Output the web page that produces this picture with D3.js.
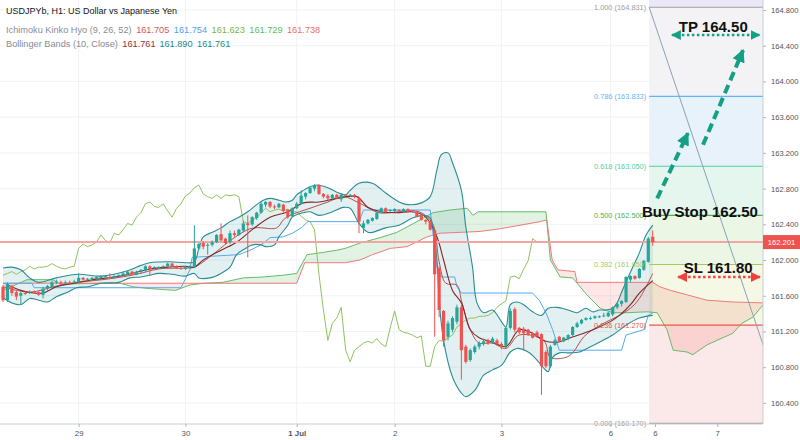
<!DOCTYPE html>
<html>
<head>
<meta charset="utf-8">
<script src="https://cdn.jsdelivr.net/npm/d3@7"></script>
<style>
  body { margin: 0; background: #fff; }
  text { font-family: 'Liberation Sans', Arial, sans-serif; }
</style>
</head>
<body>
<script>
// H1 candles, [open, high, low, close], bar 0 = Jun 28 07:00
const candles = [
  [161.70,161.72,161.53,161.55],[161.55,161.75,161.53,161.73],[161.71,161.72,161.60,161.63],[161.64,161.66,161.55,161.59],
  [161.60,161.64,161.50,161.63],[161.63,161.65,161.61,161.62],[161.63,161.66,161.62,161.64],[161.64,161.66,161.62,161.63],
  [161.64,161.65,161.60,161.61],[161.61,161.70,161.57,161.68],[161.68,161.72,161.66,161.71],[161.70,161.77,161.69,161.75],
  [161.75,161.78,161.73,161.76],[161.75,161.77,161.72,161.74],[161.74,161.77,161.73,161.75],[161.75,161.77,161.73,161.74],
  [161.75,161.78,161.74,161.76],[161.75,161.85,161.74,161.80],[161.80,161.81,161.77,161.78],[161.78,161.80,161.77,161.79],
  [161.79,161.81,161.78,161.80],[161.79,161.82,161.78,161.81],[161.80,161.83,161.79,161.82],[161.81,161.83,161.80,161.82],
  [161.81,161.85,161.79,161.80],[161.80,161.83,161.79,161.82],[161.82,161.84,161.81,161.83],[161.83,161.87,161.82,161.85],
  [161.84,161.88,161.83,161.87],[161.87,161.88,161.83,161.84],[161.84,161.88,161.83,161.87],[161.87,161.90,161.85,161.89],
  [161.88,161.94,161.87,161.93],[161.93,161.94,161.83,161.90],[161.91,161.93,161.90,161.92],[161.92,161.93,161.91,161.92],
  [161.92,161.94,161.91,161.93],[161.93,161.97,161.92,161.96],[161.96,161.97,161.92,161.93],[161.93,161.94,161.90,161.91],
  [161.91,161.92,161.89,161.90],[161.90,161.93,161.89,161.92],[161.92,161.94,161.91,161.93],[161.92,162.39,161.91,162.13],
  [162.13,162.19,162.11,162.18],[162.19,162.21,162.12,162.15],[162.16,162.19,162.06,162.17],[162.17,162.22,162.15,162.20],
  [162.20,162.29,162.19,162.28],[162.29,162.41,162.21,162.22],[162.24,162.25,162.17,162.19],[162.20,162.33,162.18,162.30],
  [162.30,162.33,162.26,162.28],[162.28,162.35,162.27,162.34],[162.33,162.44,162.31,162.41],[162.41,162.50,162.03,162.39],
  [162.40,162.49,162.38,162.48],[162.47,162.54,162.45,162.53],[162.53,162.65,162.52,162.63],[162.62,162.66,162.59,162.65],
  [162.65,162.66,162.58,162.60],[162.60,162.62,162.57,162.59],[162.59,162.64,162.58,162.63],[162.62,162.63,162.53,162.55],
  [162.56,162.57,162.46,162.48],[162.49,162.59,162.48,162.58],[162.58,162.65,162.57,162.63],[162.63,162.78,162.62,162.72],
  [162.71,162.76,162.68,162.75],[162.75,162.82,162.74,162.81],[162.80,162.85,162.77,162.84],[162.84,162.85,162.73,162.74],
  [162.74,162.75,162.69,162.71],[162.72,162.74,162.67,162.69],[162.69,162.74,162.68,162.73],[162.73,162.74,162.68,162.69],
  [162.68,162.75,162.65,162.73],[162.73,162.74,162.71,162.72],[162.72,162.74,162.71,162.73],[162.73,162.74,162.69,162.71],
  [162.69,162.71,162.30,162.43],[162.36,162.44,162.30,162.41],[162.41,162.46,162.40,162.45],[162.44,162.48,162.43,162.47],
  [162.46,162.54,162.45,162.53],[162.53,162.59,162.52,162.58],[162.58,162.59,162.53,162.54],[162.55,162.57,162.54,162.56],
  [162.55,162.58,162.54,162.57],[162.56,162.57,162.54,162.55],[162.54,162.58,162.53,162.57],[162.57,162.58,162.53,162.54],
  [162.55,162.56,162.53,162.54],[162.54,162.55,162.48,162.49],[162.50,162.52,162.44,162.45],[162.45,162.46,162.40,162.43],
  [162.43,162.44,162.33,162.34],[162.33,162.34,161.14,161.84],[161.91,161.93,161.36,161.44],[161.43,161.44,161.03,161.10],
  [161.14,161.32,161.10,161.29],[161.22,161.37,161.19,161.35],[161.31,161.50,161.28,161.47],[161.47,161.50,160.66,160.99],
  [161.03,161.05,160.84,160.86],[160.88,161.01,160.86,160.99],[160.97,161.05,160.95,161.03],[161.03,161.09,161.00,161.07],
  [161.06,161.12,161.04,161.09],[161.10,161.12,161.05,161.07],[161.07,161.14,161.06,161.12],[161.10,161.12,161.04,161.06],
  [161.06,161.08,161.00,161.03],[161.04,161.25,161.01,161.24],[161.24,161.46,161.22,161.43],[161.45,161.47,161.19,161.22],
  [161.24,161.25,161.17,161.19],[161.23,161.25,160.99,161.18],[161.22,161.23,161.15,161.16],[161.18,161.19,161.12,161.13],
  [161.19,161.21,161.13,161.15],[161.17,161.18,160.49,160.81],[160.97,160.99,160.79,160.81],[160.81,161.05,160.79,161.03],
  [161.05,161.12,161.04,161.10],[161.14,161.15,161.08,161.09],[161.09,161.14,161.08,161.13],[161.12,161.17,161.10,161.16],
  [161.16,161.26,161.15,161.25],[161.25,161.31,161.24,161.29],[161.29,161.34,161.28,161.33],[161.33,161.36,161.32,161.35],
  [161.34,161.37,161.33,161.35],[161.35,161.38,161.34,161.37],[161.36,161.38,161.35,161.37],[161.37,161.41,161.36,161.38],
  [161.37,161.42,161.36,161.41],[161.39,161.48,161.37,161.47],[161.47,161.52,161.45,161.51],[161.51,161.55,161.48,161.54],
  [161.53,161.82,161.52,161.81],[161.78,161.83,161.75,161.82],[161.82,161.83,161.78,161.79],[161.80,161.91,161.79,161.90],
  [161.89,162.00,161.88,161.99],[161.98,162.26,161.97,162.24],[162.26,162.33,162.16,162.201]
];

// indicator lines, [bar, price]
const bbUpper = [[0,161.91],[2,161.92],[4,161.89],[6,161.80],[8,161.75],[12,161.80],[17,161.84],[22,161.82],[28,161.88],[31,161.94],
  [33,161.97],[37.5,161.98],[41,161.97],[43,161.98],[44,162.13],[45,162.26],[47,162.31],[49,162.36],[51,162.43],[53,162.48],
  [55,162.54],[57,162.62],[58.5,162.67],[60,162.69],[62,162.67],[63.5,162.65],[65,162.67],[66,162.73],[67.5,162.78],[69,162.82],
  [70.5,162.84],[73,162.81],[75,162.76],[77,162.73],[78,162.78],[80,162.86],[83,162.86],[86,162.75],[89,162.65],[91,162.62],
  [94,162.64],[96,162.71],[97.5,163.01],[98.5,163.18],[100,163.20],[101,163.09],[103,162.78],[104,162.37],[105.5,161.92],
  [106.5,161.52],[108,161.41],[110,161.44],[112,161.31],[113,161.25],[114,161.50],[115.5,161.53],[117,161.50],[119,161.42],
  [121,161.38],[122.5,161.46],[124.5,161.47],[127,161.44],[129,161.41],[131,161.46],[132.5,161.42],[134,161.44],[135.5,161.44],
  [137,161.46],[138,161.52],[139,161.64],[140.5,161.81],[141.5,161.92],[143,162.08],[144.5,162.28],[146,162.39]];
const bbLower = [[0,161.58],[2,161.52],[4,161.50],[6,161.57],[8,161.55],[10,161.53],[12,161.59],[14.5,161.64],[16.5,161.69],
  [19,161.70],[22,161.74],[26,161.75],[28.5,161.80],[31,161.81],[33,161.83],[35,161.85],[38,161.84],[41,161.82],[43,161.85],
  [44,161.80],[46.5,161.80],[49,161.85],[51,161.92],[52.5,162.06],[54.5,162.13],[56,162.17],[58,162.17],[59,162.15],[61,162.17],
  [62,162.26],[64,162.39],[65,162.48],[67.5,162.53],[69,162.54],[71,162.50],[73.5,162.53],[76.5,162.59],[78,162.58],[80,162.41],
  [82,162.31],[83,162.31],[86,162.36],[89,162.39],[92,162.47],[94.5,162.50],[96,162.47],[97.5,162.00],[98,161.55],[99,161.10],
  [101,160.69],[103,160.51],[104,160.47],[106,160.54],[108,160.71],[110,160.77],[112,160.82],[114,160.97],[115.5,161.01],
  [118,160.97],[120,160.88],[121.5,160.79],[122.5,160.75],[123.5,160.91],[125,160.96],[127.5,160.96],[129.5,160.97],[132,161.03],
  [134,161.08],[137,161.16],[140,161.27],[143,161.35],[146,161.38]];
const bbBasis = [[1,161.72],[4,161.66],[7,161.63],[9,161.63],[12,161.70],[16,161.74],[20,161.78],[25,161.81],[29,161.85],[33,161.90],
  [37,161.92],[41,161.93],[43,161.92],[45,162.00],[49,162.11],[52.5,162.20],[56,162.34],[60,162.48],[64,162.54],[67.5,162.64],
  [71,162.65],[75,162.69],[79.5,162.71],[82,162.59],[85,162.54],[88.5,162.53],[92,162.54],[95,162.48],[97.5,162.26],[99,162.00],
  [101,161.66],[103,161.52],[105,161.22],[107,161.13],[110,161.08],[113,161.03],[116,161.22],[119,161.18],[121.5,161.10],
  [124.5,161.08],[127.5,161.13],[130.5,161.18],[133.5,161.24],[136.5,161.31],[138.5,161.38],[141,161.50],[143,161.63],[146,161.77]];
const conversionLine = [[0,161.70],[6,161.64],[12,161.71],[17,161.75],[24,161.79],[30,161.84],[35,161.90],[41,161.91],[43,161.92],
  [55.5,162.35],[61.5,162.36],[63,162.45],[64.5,162.50],[69,162.58],[73,162.65],[76.5,162.71],[80,162.64],[84.5,162.53],
  [89,162.54],[93.5,162.54],[96.5,162.41],[98,161.98],[99.5,161.74],[102,161.72],[103,161.55],[105,161.22],[107,161.07],
  [110,161.07],[113,161.01],[116,161.16],[121.5,161.10],[123,160.91],[126.5,160.91],[128,160.96],[130.5,161.14],[133.5,161.25],
  [136.5,161.33],[138.5,161.38],[141,161.46],[143,161.57],[146,161.85]];
const baseLine = [[0,161.74],[6.5,161.74],[7,161.69],[40,161.69],[40.5,161.74],[42,161.89],[42.5,162.03],[53,162.06],[55.5,162.11],
  [58,162.17],[60,162.25],[63,162.26],[65,162.30],[67,162.36],[68.5,162.43],[80,162.43],[81,162.56],[96,162.56],[97.5,161.92],
  [98.5,161.81],[101.5,161.81],[102,161.70],[103,161.63],[119,161.63],[120.5,161.55],[122,161.41],[123.5,161.22],[125,160.99],
  [139,160.99],[140,161.16],[144,161.22],[145,161.38],[146,161.41]];
const spanA = [[0,161.66],[5.4,161.78],[11.2,161.78],[12.8,161.73],[21.8,161.74],[26.3,161.74],[29.2,161.70],[33,161.68],
  [38.7,161.66],[42,161.72],[45,161.74],[49.4,161.75],[54,161.80],[58.4,161.81],[63,161.83],[66,161.85],[68.3,162.06],
  [71.2,162.08],[75,162.11],[76.9,162.13],[80.2,162.19],[84.7,162.25],[88.5,162.31],[93,162.43],[96.6,162.53],[100.4,162.56],
  [104.3,162.58],[105.6,162.50],[106.7,162.54],[114,162.54],[122,162.54],[123,162.00],[125.2,161.81],[128,161.80],[131.2,161.61],
  [134.2,161.46],[137,161.41],[140.2,161.41],[144.7,161.42],[147,161.41],[149.2,161.22],[150.6,160.99],[153.7,160.97],
  [155,160.94],[158.2,161.05],[164,161.18],[166,161.29],[168.5,161.36],[170.8,161.50]];
const spanB = [[0,161.74],[53,161.74],[66,161.74],[67.8,161.97],[76.9,161.97],[80.2,162.00],[83,162.06],[87,162.13],[90.8,162.15],
  [95.3,162.26],[98.2,162.30],[102.7,162.31],[107.2,162.32],[111.7,162.35],[120.7,162.43],[122.2,162.45],[123.4,162.00],
  [124.7,161.89],[128.5,161.87],[129,161.75],[146,161.75],[147.6,161.70],[150,161.66],[158.2,161.55],[164,161.53],[170.8,161.52]];
const laggingShift = 26;

// axes
const priceTicks = [160.4, 160.8, 161.2, 161.6, 162.0, 162.4, 162.8, 163.2, 163.6, 164.0, 164.4, 164.8];
const dateTickBars = [17, 41, 66, 88, 112, 136.5, 146.5, 160.5];
const dateLabels = ['29', '30', '1 Jul', '2', '3', '6', '6', '7'];
const lastPrice = 162.201;

// fibonacci retracement
const fibLevels = [0, 0.236, 0.382, 0.5, 0.618, 0.786, 1];
const fibPrices = [160.170, 161.270, 161.950, 162.500, 163.050, 163.833, 164.831];
const fibLineColors = ['#9e9e9e', '#ef5350', '#a5cc5a', '#4caf50', '#4fd1a5', '#64b5f6', '#9e9e9e'];
const fibFillColors = ['#fbe8e8', '#f4f8e4', '#ebf6e5', '#e4f6ee', '#e7f2fa', '#f3f3f5'];
const fibStartBar = 145.2;
const trendLine = [[145.2, 164.831], [171, 161.02]];

// trade plan
const tpArrow = [[150.3, 164.52], [170, 164.52]];
const slArrow = [[151.7, 161.81], [170.1, 161.81]];
const upArrows = [[[147, 162.69], [153.9, 163.42]], [[157.3, 163.29], [166.3, 164.35]]];
const notes = [
  { text: 'TP 164.50', bar: 159.6, price: 164.555 },
  { text: 'Buy Stop 162.50', bar: 156.6, price: 162.48 },
  { text: 'SL 161.80', bar: 160.7, price: 161.855 }
];

const ichimokuValues = [['161.705', '#d25a5a'], ['161.754', '#4ea3e6'], ['161.623', '#7cb342'], ['161.729', '#57c25a'], ['161.738', '#f06a6a']];
const bbValues = [['161.761', '#9a2e2e'], ['161.890', '#1b8a8a'], ['161.761', '#1b8a8a']];

const width = 800;
const height = 440;
const plotRight = 763;
const plotBottom = 424;

const svg = d3.select('body').append('svg')
  .attr('width', width)
  .attr('height', height);

const x = d3.scaleLinear().domain([0, 171]).range([3, 764]);
const y = d3.scaleLinear().domain([160.4, 164.8]).range([402.9, 10]);

const defs = svg.append('defs');
defs.append('clipPath').attr('id', 'plot')
  .append('rect').attr('width', plotRight).attr('height', plotBottom);

function head(id, color, size) {
  defs.append('marker')
    .attr('id', id)
    .attr('viewBox', '0 0 10 10')
    .attr('refX', 9).attr('refY', 5)
    .attr('markerWidth', size).attr('markerHeight', size)
    .attr('markerUnits', 'userSpaceOnUse')
    .attr('orient', 'auto-start-reverse')
    .append('path')
    .attr('d', 'M0,0 L10,5 L0,10 z')
    .attr('fill', color);
}
head('tealHead', '#14a085', 13);
head('tealSmall', '#14a085', 10);
head('redSmall', '#f0413c', 10);

// grid
const grid = svg.append('g');
grid.selectAll('.h').data(priceTicks).enter().append('line')
  .attr('x1', 0).attr('x2', plotRight)
  .attr('y1', d => y(d)).attr('y2', d => y(d))
  .attr('stroke', '#f0f2f6');
grid.selectAll('.v').data(dateTickBars).enter().append('line')
  .attr('x1', d => x(d)).attr('x2', d => x(d))
  .attr('y1', 0).attr('y2', plotBottom)
  .attr('stroke', '#f0f2f6');

const plot = svg.append('g').attr('clip-path', 'url(#plot)');

// fib zones
const fx0 = x(fibStartBar);
plot.append('rect')
  .attr('x', fx0).attr('y', 0)
  .attr('width', plotRight - fx0).attr('height', y(fibPrices[6]))
  .attr('fill', '#ebe7f7');
plot.selectAll('.fibZone').data(fibFillColors).enter().append('rect')
  .attr('x', fx0)
  .attr('y', (d, i) => y(fibPrices[i + 1]))
  .attr('width', plotRight - fx0)
  .attr('height', (d, i) => y(fibPrices[i]) - y(fibPrices[i + 1]))
  .attr('fill', d => d);

const lin = d3.line().x(d => x(d[0])).y(d => y(d[1]));
const smooth = d3.line().x(d => x(d[0])).y(d => y(d[1])).curve(d3.curveCatmullRom.alpha(0.5));

// ichimoku cloud
const cloudPath = lin(spanA) + lin(spanB.slice().reverse()).replace(/^M/, 'L') + 'Z';
defs.append('clipPath').attr('id', 'aboveB')
  .append('path').attr('d', d3.area().x(d => x(d[0])).y0(0).y1(d => y(d[1]))(spanB));
defs.append('clipPath').attr('id', 'belowB')
  .append('path').attr('d', d3.area().x(d => x(d[0])).y0(height).y1(d => y(d[1]))(spanB));
plot.append('g').attr('clip-path', 'url(#aboveB)')
  .append('path').attr('d', cloudPath).attr('fill', 'rgba(76,175,80,0.16)');
plot.append('g').attr('clip-path', 'url(#belowB)')
  .append('path').attr('d', cloudPath).attr('fill', 'rgba(244,67,54,0.13)');

// bollinger fill
plot.append('path')
  .attr('d', smooth(bbUpper) + smooth(bbLower.slice().reverse()).replace(/^M/, 'L') + 'Z')
  .attr('fill', 'rgba(38,140,150,0.13)');

const lagging = candles.map((c, i) => [i - laggingShift, c[3]]).filter(d => d[0] >= 0);

const lines = [
  { data: spanA, color: '#66bb6a', w: 1, gen: lin },
  { data: spanB, color: '#ef7b7b', w: 1, gen: lin },
  { data: lagging, color: '#8fc35f', w: 1, gen: lin },
  { data: baseLine, color: '#55aaf0', w: 1, gen: lin },
  { data: conversionLine, color: '#b0524f', w: 1, gen: smooth },
  { data: bbBasis, color: '#7e2a2a', w: 1.1, gen: smooth },
  { data: bbUpper, color: '#2a8d93', w: 1.1, gen: smooth },
  { data: bbLower, color: '#2a8d93', w: 1.1, gen: smooth }
];
plot.selectAll('.ind').data(lines).enter().append('path')
  .attr('d', d => d.gen(d.data))
  .attr('fill', 'none')
  .attr('stroke', d => d.color)
  .attr('stroke-width', d => d.w);

// last price line
plot.append('line')
  .attr('x1', 0).attr('x2', plotRight)
  .attr('y1', y(lastPrice)).attr('y2', y(lastPrice))
  .attr('stroke', '#f5a3a3').attr('stroke-width', 2);

// candles
const candle = plot.selectAll('.candle').data(candles).enter().append('g');
candle.append('line')
  .attr('x1', (d, i) => x(i)).attr('x2', (d, i) => x(i))
  .attr('y1', d => y(d[1])).attr('y2', d => y(d[2]))
  .attr('stroke', d => d[3] >= d[0] ? '#26a69a' : '#ef5350');
candle.append('rect')
  .attr('x', (d, i) => x(i) - 1.6)
  .attr('width', 3.2)
  .attr('y', d => y(Math.max(d[0], d[3])))
  .attr('height', d => Math.max(1, Math.abs(y(d[0]) - y(d[3]))))
  .attr('fill', d => d[3] >= d[0] ? '#26a69a' : '#ef5350');

// fib lines + labels
plot.selectAll('.fibLine').data(fibPrices).enter().append('line')
  .attr('x1', fx0).attr('x2', plotRight)
  .attr('y1', d => y(d)).attr('y2', d => y(d))
  .attr('stroke', (d, i) => fibLineColors[i]).attr('stroke-width', 1.2);
svg.selectAll('.fibLabel').data(fibPrices).enter().append('text')
  .attr('x', fx0 - 3)
  .attr('y', d => y(d) + 2.6)
  .attr('text-anchor', 'end')
  .attr('font-size', 7.4)
  .attr('fill', (d, i) => fibLineColors[i])
  .text((d, i) => `${fibLevels[i].toFixed(3)} (${d.toFixed(3)})`);

plot.append('path')
  .attr('d', lin(trendLine))
  .attr('stroke', '#88a3b3').attr('stroke-width', 1).attr('fill', 'none');

// trade plan arrows
svg.selectAll('.up').data(upArrows).enter().append('path')
  .attr('d', d => lin(d))
  .attr('stroke', '#14a085').attr('stroke-width', 4)
  .attr('stroke-dasharray', '9,5').attr('fill', 'none')
  .attr('marker-end', 'url(#tealHead)');
svg.append('path').attr('d', lin(tpArrow))
  .attr('stroke', '#14a085').attr('stroke-width', 2.6)
  .attr('stroke-dasharray', '2.5,2.5').attr('fill', 'none')
  .attr('marker-start', 'url(#tealSmall)').attr('marker-end', 'url(#tealSmall)');
svg.append('path').attr('d', lin(slArrow))
  .attr('stroke', '#f0413c').attr('stroke-width', 2.6)
  .attr('stroke-dasharray', '2.5,2.5').attr('fill', 'none')
  .attr('marker-start', 'url(#redSmall)').attr('marker-end', 'url(#redSmall)');
svg.selectAll('.note').data(notes).enter().append('text')
  .attr('x', d => x(d.bar)).attr('y', d => y(d.price))
  .attr('text-anchor', 'middle')
  .attr('font-size', 15).attr('font-weight', 'bold')
  .attr('fill', '#111')
  .text(d => d.text);

// borders
svg.append('line').attr('x1', plotRight).attr('x2', plotRight).attr('y1', 0).attr('y2', plotBottom)
  .attr('stroke', '#c9ccd2');
svg.append('line').attr('x1', 0).attr('x2', plotRight).attr('y1', plotBottom).attr('y2', plotBottom)
  .attr('stroke', '#c9ccd2');

// price axis
const yAxis = svg.append('g')
  .attr('transform', `translate(${plotRight},0)`)
  .call(d3.axisRight(y).tickValues(priceTicks).tickFormat(d3.format('.3f')).tickSize(3).tickPadding(5));
yAxis.select('.domain').remove();
yAxis.selectAll('line').attr('stroke', '#b2b5be');
yAxis.selectAll('text').attr('font-size', 7.6).attr('fill', '#50535e')
  .attr('font-family', "'Liberation Sans', Arial, sans-serif");

const lp = svg.append('g').attr('transform', `translate(${plotRight},${y(lastPrice)})`);
lp.append('rect').attr('x', 0).attr('y', -7).attr('width', width - plotRight).attr('height', 14).attr('fill', '#ef5350');
lp.append('text').attr('x', 18.5).attr('y', 2.7).attr('text-anchor', 'middle')
  .attr('font-size', 7.6).attr('fill', '#fff').text(d3.format('.3f')(lastPrice));

// time axis
const xAxis = svg.append('g')
  .attr('transform', `translate(0,${plotBottom})`)
  .call(d3.axisBottom(x).tickValues(dateTickBars).tickFormat((d, i) => dateLabels[i]).tickSize(3).tickPadding(3));
xAxis.select('.domain').remove();
xAxis.selectAll('line').attr('stroke', '#b2b5be');
xAxis.selectAll('text').attr('font-size', 7.8).attr('fill', '#50535e')
  .attr('font-family', "'Liberation Sans', Arial, sans-serif")
  .attr('font-weight', (d, i) => dateLabels[i] === '1 Jul' ? 'bold' : 'normal');

// legend
svg.append('text').attr('x', 6).attr('y', 14)
  .attr('font-size', 9).attr('fill', '#131722')
  .text('USDJPYb, H1: US Dollar vs Japanese Yen');

function legendRow(yPos, label, values) {
  const t = svg.append('text').attr('x', 6).attr('y', yPos).attr('font-size', 9.2);
  t.append('tspan').attr('fill', '#8a8d96').text(label);
  values.forEach(v => t.append('tspan').attr('dx', 4.5).attr('fill', v[1]).text(v[0]));
}
legendRow(33, 'Ichimoku Kinko Hyo (9, 26, 52)', ichimokuValues);
legendRow(47, 'Bollinger Bands (10, Close)', bbValues);
</script>
</body>
</html>
